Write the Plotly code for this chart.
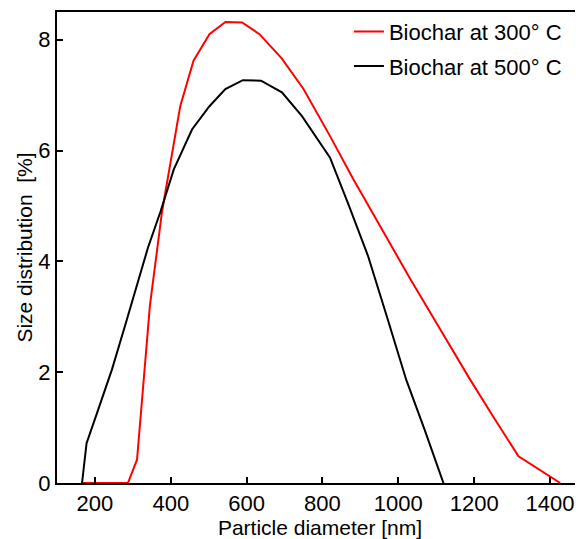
import plotly.graph_objects as go

# Biochar at 300 °C
x300 = [166, 287, 311, 345, 377, 425, 460, 502, 544, 588, 634, 693, 750, 820,
        880, 950, 1030, 1110, 1189, 1250, 1317, 1427]
y300 = [0, 0, 0.42, 3.2, 4.9, 6.8, 7.62, 8.10, 8.32, 8.31, 8.10, 7.66, 7.11, 6.26,
        5.5, 4.65, 3.7, 2.78, 1.87, 1.2, 0.48, 0]

# Biochar at 500 °C
x500 = [166, 178, 210, 245, 280, 311, 340, 373, 408, 456, 502, 544, 590, 638,
        693, 746, 820, 870, 920, 970, 1021, 1070, 1119]
y500 = [0, 0.72, 1.35, 2.05, 2.85, 3.55, 4.25, 4.9, 5.66, 6.38, 6.80, 7.11, 7.27, 7.26,
        7.05, 6.62, 5.87, 5.0, 4.1, 3.0, 1.86, 0.95, 0]

x_ticks = [200, 400, 600, 800, 1000, 1200, 1400]
y_ticks = [0, 2, 4, 6, 8]

FONT = "Liberation Sans, Arial, sans-serif"

fig = go.Figure()
fig.add_trace(go.Scatter(x=x300, y=y300, mode="lines", name="Biochar at 300° C",
                         line=dict(color="#ff0000", width=2), legendgroup="a"))
fig.add_trace(go.Scatter(x=x500, y=y500, mode="lines", name="Biochar at 500° C",
                         line=dict(color="#000000", width=2), legendgroup="b"))

# page body has an 8px margin, so the figure is sized to end at the window edge
fig.update_layout(
    width=575, height=531,
    margin=dict(l=49, r=0, t=4, b=56, autoexpand=False),
    paper_bgcolor="white", plot_bgcolor="white",
    font=dict(family=FONT, size=22, color="black"),
    showlegend=True,
    legend=dict(x=0.555, y=1.003, xanchor="left", yanchor="top",
                bgcolor="rgba(0,0,0,0)", borderwidth=0,
                font=dict(size=22), tracegroupgap=3,
                traceorder="grouped"),
    xaxis=dict(range=[100, 1487], tickvals=x_ticks, ticks="inside", ticklen=6,
               tickwidth=1.5, tickcolor="black", showline=True, linecolor="black",
               linewidth=2, mirror=True, showgrid=False, zeroline=False,
               automargin=False,
               title=dict(text="Particle diameter [nm]", standoff=0,
                          font=dict(size=21)),
               tickfont=dict(size=22)),
    yaxis=dict(range=[0, 8.5], tickvals=y_ticks, ticks="inside", ticklen=6,
               tickwidth=1.5, tickcolor="black", showline=True, linecolor="black",
               linewidth=2, mirror=False, showgrid=False, zeroline=False,
               automargin=False,
               title=dict(text="Size distribution  [%]", standoff=0,
                          font=dict(size=21)),
               tickfont=dict(size=22)),
)

fig.write_html("out.html")
